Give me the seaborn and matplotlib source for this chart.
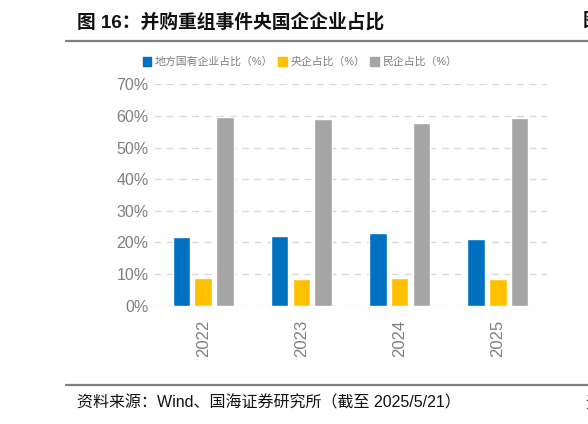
import matplotlib
matplotlib.use("Agg")
import matplotlib.pyplot as plt
import matplotlib.lines as mlines
import matplotlib.patches as mpatches
import pandas as pd
import seaborn as sns

years = ["2022", "2023", "2024", "2025"]
series = ["地方国有企业占比（%）", "央企占比（%）", "民企占比（%）"]
local_soe = [21.6, 22.0, 22.9, 21.0]
central_soe = [8.7, 8.4, 8.9, 8.3]
private = [59.6, 59.1, 57.8, 59.3]
colors = ["#0070C0", "#FFC000", "#A5A5A5"]
y_ticks = [0, 10, 20, 30, 40, 50, 60, 70]

sns.set_style("white")
plt.rcParams["font.family"] = ["Liberation Sans", "Noto Sans CJK SC", "DejaVu Sans"]

df = pd.DataFrame({
    "year": years * 3,
    "series": [series[0]] * 4 + [series[1]] * 4 + [series[2]] * 4,
    "value": [v / 100 for v in local_soe + central_soe + private],
})

fig = plt.figure(figsize=(5.88, 4.24), dpi=100)
ax = fig.add_axes([0.262, 0.279, 0.668, 0.522])

sns.barplot(data=df, x="year", y="value", hue="series", palette=colors,
            width=0.666, gap=0.195, ax=ax, legend=False, saturation=1)

ax.set_ylim(0, 0.7)
ax.set_xlim(-0.5, 3.5)
ax.set_yticks([t / 100 for t in y_ticks])
ax.set_yticklabels([f"{t}%" for t in y_ticks])
ax.set_xlabel("")
ax.set_ylabel("")
for s in ax.spines.values():
    s.set_visible(False)
ax.yaxis.grid(True, color="#D9D9D9", linestyle=(0, (5, 4)), linewidth=1)
ax.set_axisbelow(True)
ax.tick_params(axis="y", colors="#7F7F7F", labelsize=11.5, length=0, pad=4)
ax.tick_params(axis="x", colors="#7F7F7F", labelsize=12, length=0, pad=10,
               labelrotation=90)

handles = [mpatches.Patch(color=c, label=s) for c, s in zip(colors, series)]
fig.legend(handles=handles, loc="center", bbox_to_anchor=(0.51, 0.854), ncol=3,
           frameon=False, fontsize=7.8, handlelength=0.8, handleheight=0.8,
           handletextpad=0.3, columnspacing=0.5, labelcolor="#7F7F7F")

fig.text(77 / 588, 1 - 22 / 424, "图 16：并购重组事件央国企企业占比", fontsize=13.5,
         fontweight="bold", va="center", ha="left", color="#111111")
fig.text(583 / 588, 1 - 22 / 424, "图", fontsize=13.5, fontweight="bold",
         va="center", ha="left", color="#111111")
fig.add_artist(mlines.Line2D([66 / 588, 1], [1 - 41 / 424] * 2, color="#7F7F7F",
                             linewidth=1.6, transform=fig.transFigure))
fig.add_artist(mlines.Line2D([66 / 588, 1], [1 - 385 / 424] * 2, color="#7F7F7F",
                             linewidth=1.6, transform=fig.transFigure))
fig.text(77 / 588, 1 - 403 / 424, "资料来源：Wind、国海证券研究所（截至 2025/5/21）",
         fontsize=11.5, va="center", ha="left", color="#111111")
fig.text(585 / 588, 1 - 403 / 424, "资", fontsize=11.5, va="center", ha="left",
         color="#111111")

fig.savefig("out.png", dpi=100)
